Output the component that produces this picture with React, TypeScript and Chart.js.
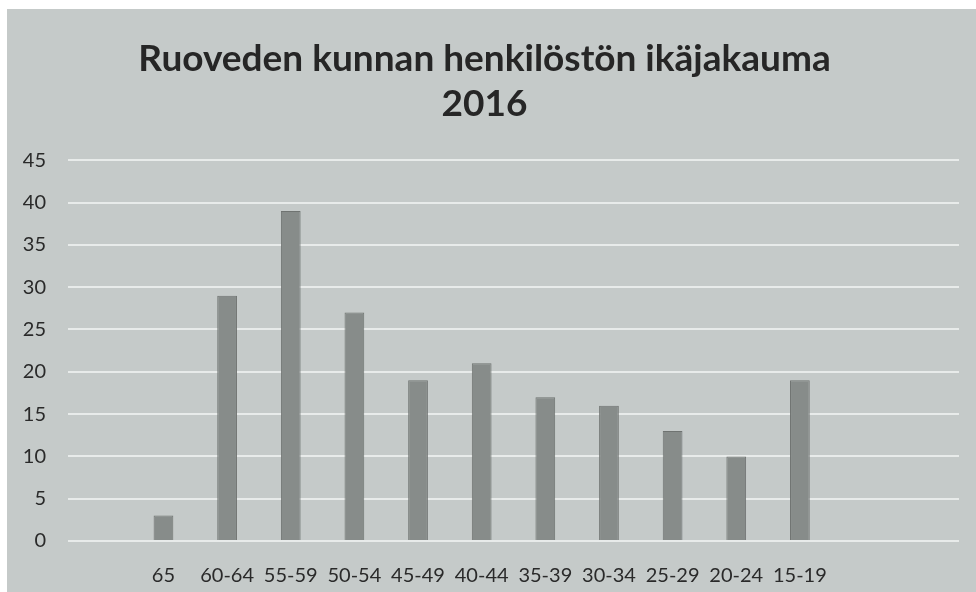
import React, { useEffect, useRef } from "react";
import { Chart, registerables } from "chart.js";

Chart.register(...registerables);

const titleLines = ["Ruoveden kunnan henkilöstön ikäjakauma", "2016"];
const categories = ["", "65", "60-64", "55-59", "50-54", "45-49", "40-44", "35-39", "30-34", "25-29", "20-24", "15-19", "", ""];
const counts: (number | null)[] = [null, 3, 29, 39, 27, 19, 21, 17, 16, 13, 10, 19, null, null];
const yMax = 45;
const yStep = 5;

const FONT = "Lato, 'Open Sans', sans-serif";

const bgPlugin = {
  id: "paperBg",
  beforeDraw(chart: any) {
    const ctx = chart.ctx;
    ctx.save();
    ctx.fillStyle = "#ffffff";
    ctx.fillRect(0, 0, chart.width, chart.height);
    ctx.fillStyle = "#c5cac9";
    ctx.fillRect(7, 9, chart.width - 7, chart.height - 9);
    ctx.restore();
  },
};

export default function App() {
  const ref = useRef<HTMLCanvasElement | null>(null);
  useEffect(() => {
    document.body.style.margin = "0";
    if (!ref.current) return;
    const chart = new Chart(ref.current, {
      type: "bar",
      data: {
        labels: categories,
        datasets: [
          {
            data: counts,
            backgroundColor: "#878c8a",
            borderColor: "#6f7371",
            borderWidth: 1,
            barPercentage: 0.62,
            categoryPercentage: 0.5,
          },
        ],
      },
      options: {
        animation: false,
        responsive: false,
        maintainAspectRatio: false,
        layout: { padding: { top: 0, right: 17, bottom: 0, left: 10 } },
        plugins: {
          legend: { display: false },
          tooltip: { enabled: false },
          title: {
            display: true,
            text: titleLines,
            color: "#262626",
            font: { family: FONT, size: 37, weight: "bold", lineHeight: 1.22 },
            padding: { top: 36, bottom: 34 },
          },
        },
        scales: {
          x: {
            grid: { display: false, drawTicks: false },
            border: { display: false },
            ticks: {
              color: "#2a2a2a",
              font: { family: FONT, size: 20 },
              padding: 23,
              maxRotation: 0,
              autoSkip: false,
            },
            afterFit(scale: any) {
              scale.height = 51;
            },
          },
          y: {
            min: 0,
            max: yMax,
            grid: { color: "#e8ebea", lineWidth: 2, drawTicks: false },
            border: { display: false },
            ticks: {
              stepSize: yStep,
              color: "#2a2a2a",
              font: { family: FONT, size: 20 },
              padding: 22,
            },
            afterFit(scale: any) {
              scale.width = 58;
            },
          },
        },
      },
      plugins: [bgPlugin],
    });
    return () => chart.destroy();
  }, []);
  return <canvas ref={ref} width={976} height={592} style={{ display: "block" }} />;
}
